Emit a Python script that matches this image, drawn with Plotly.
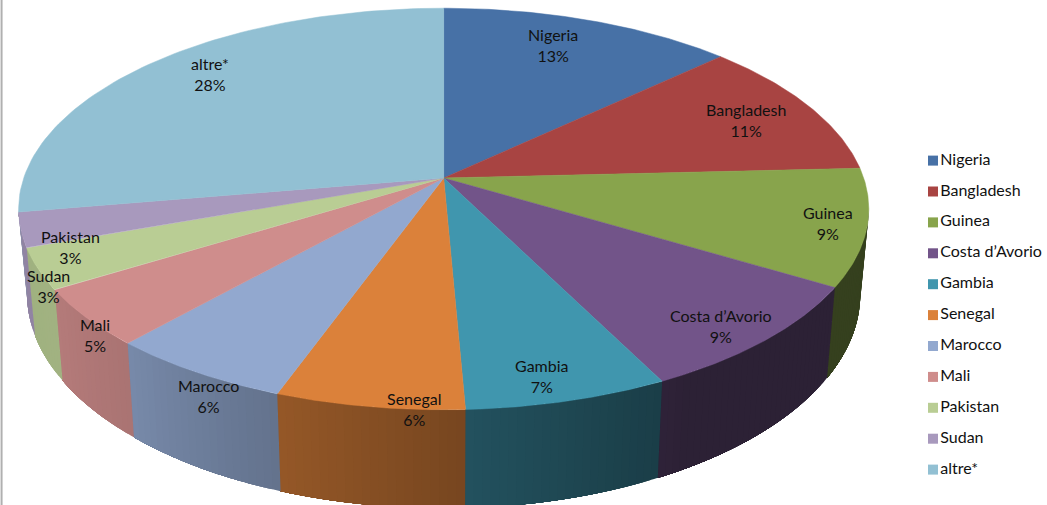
import numpy as np
import plotly.graph_objects as go

# ---- data ----
countries = ["Nigeria", "Bangladesh", "Guinea", "Costa d’Avorio", "Gambia", "Senegal",
             "Marocco", "Mali", "Pakistan", "Sudan", "altre*"]
shares = [13.0, 11.2, 9.4, 9.0, 6.7, 6.2, 6.1, 4.6, 3.3, 2.8, 27.7]
share_labels = ["13%", "11%", "9%", "9%", "7%", "6%", "6%", "5%", "3%", "3%", "28%"]

# ---- style / layout ----
colors = ["#4771a6", "#a84442", "#88a44c", "#725489", "#4096ae", "#db813a",
          "#92a8cf", "#cf8d8c", "#b9cd94", "#a899bd", "#92c0d3"]
label_x = [553, 746, 828, 721, 542, 414, 208, 95, 70, 48, 210]
label_y = [45, 120, 223, 326, 376, 409, 396, 335, 247, 286, 74]
FONT = "Lato, Carlito, sans-serif"
LEGEND_X, LEGEND_Y0, LEGEND_STEP = 933, 160.6, 30.9

# Perspective projection of the disc: angle in degrees, clockwise from 12 o'clock.
CX, CY, AX, AY, K = 443.7, 178.0, 420.0, 196.0, 0.1543


def top_edge(theta):
    t = np.radians(theta)
    w = 1 + K * np.cos(t)
    return CX + AX * np.sin(t) / w, CY - AY * np.cos(t) / w


def bottom_edge(theta):
    t = np.radians(theta)
    w = 1 + K * np.cos(t)
    return CX + 0.98 * AX * np.sin(t) / w, 261.0 - 1.067 * AY * np.cos(t) / w


def wall_shade(theta):
    return np.interp(theta, [150, 177, 200, 222, 238, 262], [0.39, 0.54, 0.68, 0.82, 0.87, 0.86])


def shaded(hex_color, f):
    r, g, b = (int(hex_color[i:i + 2], 16) for i in (1, 3, 5))
    return f"rgb({r * f:.0f},{g * f:.0f},{b * f:.0f})"


edges = np.concatenate([[0], np.cumsum(shares)]) * 3.6
WALL_START, WALL_END = 98.9, 261.1

fig = go.Figure()

# side walls, as thin strips so the shading varies around the rim
for i, color in enumerate(colors):
    a0, a1 = max(edges[i], WALL_START), min(edges[i + 1], WALL_END)
    if a1 <= a0:
        continue
    n = max(1, int((a1 - a0) / 1.0))
    steps = np.linspace(a0, a1, n + 1)
    for j, (s0, s1) in enumerate(zip(steps[:-1], steps[1:])):
        # each strip runs on to the end of the slice; later strips paint over it, so no seams
        th = np.linspace(s0, a1, max(4, int((a1 - s0) * 2)))
        tx, ty = top_edge(th)
        bx, by = bottom_edge(th[::-1])
        c = shaded(color, float(wall_shade((s0 + s1) / 2)))
        fig.add_trace(go.Scatter(
            x=np.concatenate([tx, bx, tx[:1]]), y=np.concatenate([ty, by, ty[:1]]),
            mode="none", fill="toself", fillcolor=c,
            showlegend=False, hoverinfo="skip"))

# top faces
for i, color in enumerate(colors):
    th = np.linspace(edges[i], edges[i + 1], 80)
    ex, ey = top_edge(th)
    fig.add_trace(go.Scatter(
        x=np.concatenate([[CX], ex, [CX]]), y=np.concatenate([[CY], ey, [CY]]),
        mode="lines", fill="toself", fillcolor=color, line=dict(color=color, width=0.5),
        name=countries[i], showlegend=False, hoverinfo="name"))

# legend column
for i, color in enumerate(colors):
    fig.add_trace(go.Scatter(
        x=[LEGEND_X], y=[LEGEND_Y0 + i * LEGEND_STEP], mode="markers+text",
        name=countries[i], text=[countries[i]], textposition="middle right",
        textfont=dict(family=FONT, size=16, color="#111111"),
        marker=dict(symbol="square", size=10, color=color),
        showlegend=False, hoverinfo="name"))

for i, name in enumerate(countries):
    fig.add_annotation(x=label_x[i], y=label_y[i], text=f"{name}<br>{share_labels[i]}",
                       showarrow=False, align="center", xanchor="center", yanchor="middle",
                       font=dict(family=FONT, size=16, color="#111111"))

fig.add_shape(type="line", xref="paper", yref="paper", x0=0.0015, x1=0.0015, y0=0, y1=1,
              line=dict(color="#b0b0b0", width=2))

fig.update_layout(
    width=1047, height=505, margin=dict(l=0, r=0, t=0, b=0),
    paper_bgcolor="white", plot_bgcolor="white",
    xaxis=dict(range=[0, 1047], visible=False, fixedrange=True),
    yaxis=dict(range=[505, 0], visible=False, fixedrange=True),
    showlegend=False,
)

fig.write_html("out.html", config={"displayModeBar": False},
               post_script="document.body.style.margin='0';document.documentElement.style.overflow='hidden';")
